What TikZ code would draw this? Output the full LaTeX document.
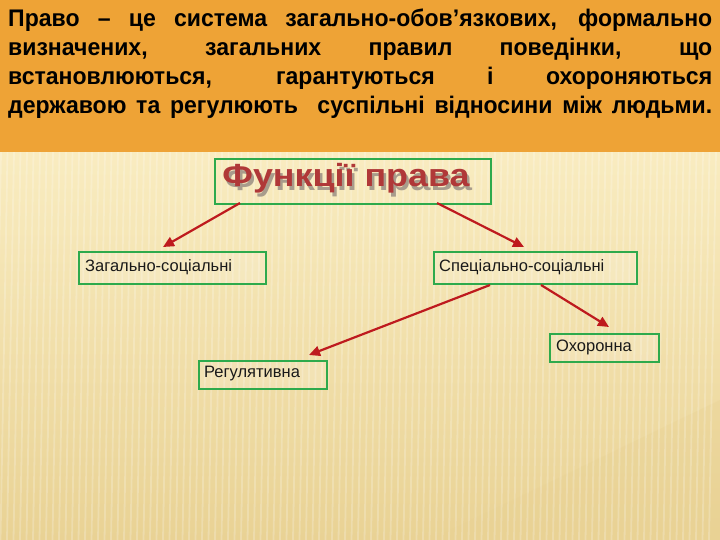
\documentclass[tikz,border=0pt]{standalone}
\usepackage{fontspec}
\setmainfont{Liberation Sans}
\newfontfamily\headfont[FakeStretch=0.96]{Liberation Sans}
\newfontfamily\titlefont[FakeStretch=1.12]{Liberation Sans}
\usetikzlibrary{arrows.meta,calc}
\definecolor{bgtop}{HTML}{F9ECC0}
\definecolor{bgbot}{HTML}{E9D294}
\definecolor{headorange}{HTML}{EEA336}
\definecolor{boxgreen}{HTML}{2EAA4C}
\definecolor{arrowred}{HTML}{BE1A1E}
\definecolor{titlered}{HTML}{B03838}
\definecolor{shadowgrey}{HTML}{A89C8C}
\tikzset{
  fbox/.style={draw=boxgreen, line width=1.6pt, fill=white, fill opacity=0.15,
    anchor=north west, inner sep=0pt},
  ftext/.style={anchor=west, inner sep=0pt, font=\fontsize{16.5}{19}\selectfont, text=black!90},
  conn/.style={draw=arrowred, line width=2.2pt, -{Triangle[length=11pt,width=10pt]}}
}
\begin{document}
\begin{tikzpicture}[x=1pt,y=-1pt]
\useasboundingbox (0,0) rectangle (720,540);
\shade[top color=bgtop, bottom color=bgbot] (0,152) rectangle (720,540);
\fill[bgbot, opacity=0.35] (430,540) -- (720,400) -- (720,540) -- cycle;
\foreach \i in {0,...,110} {
  \draw[white, opacity=0.22, line width=1.8pt] (\i*6.5+1,152) -- (\i*6.5-6,540);
}
\fill[headorange] (0,0) rectangle (720,152);
\node[anchor=north west, inner sep=0pt, text width=704pt, align=justify] (head) at (8,9)
  {\headfont\bfseries\fontsize{24}{29}\selectfont\parfillskip=0pt
   Право – це система загально-обов’язкових, формально\linebreak
   визначених, загальних правил поведінки, що\linebreak
   встановлюються, гарантуються і охороняються\linebreak
   державою та регулюють\ \ суспільні відносини між людьми.\par};
% title
\node[draw=boxgreen, line width=1.6pt, anchor=north west, inner sep=0pt,
      minimum width=276pt, minimum height=45pt] (tbox) at (214,158) {};
\node[font=\titlefont\bfseries\fontsize{32}{36}\selectfont, text=titlered, inner sep=0pt] (title) at (346,180)
  {\rlap{\kern2.5pt\raisebox{-3.5pt}{\color{shadowgrey}Функції права}}Функції права};
\node[fbox, minimum width=187pt, minimum height=32pt] (zag) at (78,251) {};
\node[ftext] (zagt) at (85,267) {Загально-соціальні};
\node[fbox, minimum width=203pt, minimum height=32pt] (spec) at (433,251) {};
\node[ftext] (spect) at (439,267) {Спеціально-соціальні};
\node[fbox, minimum width=109pt, minimum height=28pt] (okh) at (549,333) {};
\node[ftext] (okht) at (556,347) {Охоронна};
\node[fbox, minimum width=128pt, minimum height=28pt] (reg) at (198,360) {};
\node[ftext] (regt) at (204,374) {Регулятивна};
\coordinate (a1s) at (240,203);
\coordinate (a1e) at (163,247);
\coordinate (a2s) at (437,203);
\coordinate (a2e) at (524,247);
\coordinate (a3s) at (490,285);
\coordinate (a3e) at (309,355);
\coordinate (a4s) at (541,285);
\coordinate (a4e) at (609,327);
\draw[conn] (a1s) -- (a1e);
\draw[conn] (a2s) -- (a2e);
\draw[conn] (a3s) -- (a3e);
\draw[conn] (a4s) -- (a4e);
\end{tikzpicture}
\end{document}
